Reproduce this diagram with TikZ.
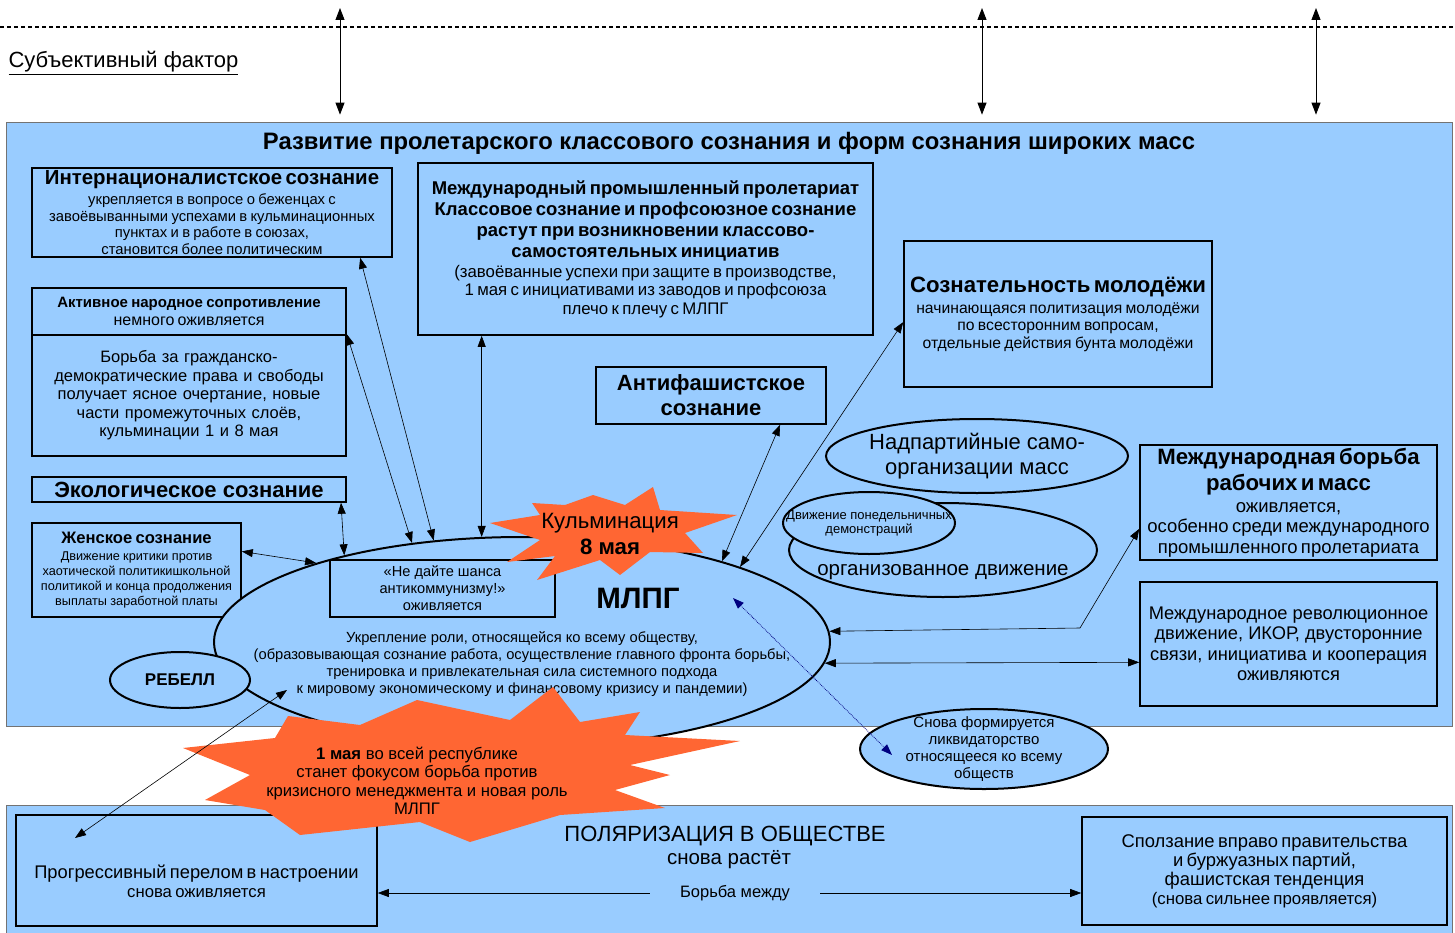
\documentclass[tikz,border=0pt]{standalone}
\usepackage{fontspec}
\setmainfont{Liberation Sans}
\usetikzlibrary{arrows.meta,shapes.geometric,positioning}
\definecolor{skyblue}{HTML}{99CCFF}
\definecolor{burstorange}{HTML}{FF6633}
\definecolor{dotnavy}{HTML}{000080}
\setlength\parindent{0pt}
\newcommand\fs[2]{\fontsize{#1}{#2}\selectfont}
\tikzset{
  panel/.style={draw=black!55, line width=0.7pt, fill=skyblue, inner sep=0pt},
  box/.style={draw, line width=1.6pt, fill=skyblue, align=center, inner sep=1pt},
  oval/.style={draw, ellipse, line width=2pt, fill=skyblue, inner sep=0pt},
  burst/.style={fill=burstorange},
  link/.style={{Triangle[length=11pt,width=8pt]}-{Triangle[length=11pt,width=8pt]}, line width=0.6pt},
  onelink/.style={-{Triangle[length=11pt,width=8pt]}, line width=0.6pt},
  farlink/.style={{Triangle[length=12pt,width=9pt]}-{Triangle[length=12pt,width=9pt]}, line width=0.9pt},
  dotlink/.style={{Triangle[length=11pt,width=8pt]}-{Triangle[length=11pt,width=8pt]}, color=dotnavy, densely dotted, line width=0.8pt}}

\begin{document}
\begin{tikzpicture}[x=1pt, y=-1pt]
\useasboundingbox (0,0) rectangle (1455,933);
% subjective factor
\draw[line width=1.2pt, dash pattern=on 4pt off 3pt] (0,27) -- (1455,27);
\node[anchor=west, font=\fs{22}{26}] (subj) at (5,63) {\underline{Субъективный фактор}};
\foreach \x/\n in {340/a, 982/b, 1316/c}
  \coordinate (top\n) at (\x,8);

% panels
\node[panel, minimum width=1446pt, minimum height=604pt] (devpanel) at (729,424) {};
\node[panel, minimum width=1446pt, minimum height=140pt] (polpanel) at (729,875) {};
\node[font=\bfseries\fs{23.8}{28}] (devtitle) at (729,143)
  {Развитие пролетарского классового сознания и форм сознания широких масс};
\foreach \n in {a,b,c}
  \draw[farlink, shorten >=7pt] (top\n) -- (top\n |- devpanel.north);

% left column
\node[box, minimum width=360pt, minimum height=89pt, text width=356pt] (intl) at (212,212.5)
  {{\bfseries\fs{20.4}{22}Интернационалистское сознание\par}\vspace{3.5pt}
   \fs{14.8}{16.5}укрепляется в вопросе о беженцах с\\завоёвыванными успехами в кульминационных\\пунктах и в работе в союзах,\\становится более политическим\par};
\node[box, minimum width=314pt, minimum height=47pt, text width=310pt] (resisthead) at (189,311.5)
  {{\bfseries\fs{15}{17}Активное народное сопротивление\par}
   \fs{16}{18}немного оживляется\par};
\node[box, minimum width=314pt, minimum height=121pt, text width=310pt, font=\fs{16.5}{18.5}] (resistbody) at (189,395.5)
  {Борьба за гражданско-\\демократические права и свободы\\получает ясное очертание, новые\\части промежуточных слоёв,\\кульминации 1 и 8 мая};
\node[box, minimum width=314pt, minimum height=25pt, font=\bfseries\fs{22}{24}] (eco) at (189,489.5)
  {Экологическое сознание};
\node[box, minimum width=209pt, minimum height=94pt, text width=205pt] (women) at (136.5,570)
  {{\bfseries\fs{16.6}{18}Женское сознание\par}\vspace{2pt}
   \fs{12.7}{15}Движение критики против\\хаотической политикишкольной\\политикой и конца продолжения\\выплаты заработной платы\par};

% middle and right
\node[box, minimum width=455pt, minimum height=172pt, text width=450pt] (prol) at (645.5,249)
  {{\bfseries\fs{18.5}{21}Международный промышленный пролетариат\\Классовое сознание и профсоюзное сознание\\растут при возникновении классово-\\самостоятельных инициатив\par}\vspace{1.5pt}
   \fs{16.8}{18.5}(завоёванные успехи при защите в производстве,\\1 мая с инициативами из заводов и профсоюза\\плечо к плечу с МЛПГ\par};
\node[box, minimum width=308pt, minimum height=146pt, text width=302pt] (youth) at (1058,314)
  {{\bfseries\fs{22.2}{24}Сознательность молодёжи\par}\vspace{3.5pt}
   \fs{15.7}{17.5}начинающаяся политизация молодёжи\\по всесторонним вопросам,\\отдельные действия бунта молодёжи\par};
\node[box, minimum width=230pt, minimum height=57pt, font=\bfseries\fs{22}{25}] (anti) at (711,395.5)
  {Антифашистское\\сознание};
\node[oval, minimum width=302pt, minimum height=74pt] (nadp) at (977,456) {};
\node[align=center, font=\fs{22}{25}] (nadptext) at (nadp) {Надпартийные само-\\организации масс};
\node[oval, minimum width=308pt, minimum height=94pt] (orgmov) at (943,550) {};
\node[font=\fs{20.5}{23}] (orgtext) at (943,572) {организованное движение};
\node[oval, minimum width=172pt, minimum height=62pt] (monday) at (869,523) {};
\node[align=center, font=\fs{13}{14}] (mondaytext) at (monday) {Движение понедельничных\\демонстраций};
\node[box, minimum width=297pt, minimum height=115pt, text width=293pt] (struggle) at (1288.5,502.5)
  {{\bfseries\fs{22.2}{26}Международная борьба\\рабочих и масс\par}\vspace{1.5pt}
   \fs{18.5}{20.5}оживляется,\\особенно среди международного\\промышленного пролетариата\par};
\node[box, minimum width=297pt, minimum height=124pt, font=\fs{18.3}{20.5}] (revol) at (1288.5,644)
  {Международное революционное\\движение, ИКОР, двусторонние\\связи, инициатива и кооперация\\оживляются};

% MLPG
\node[oval, minimum width=616pt, minimum height=210pt] (mlpg) at (522,642) {};
\node[box, minimum width=225pt, minimum height=57pt, font=\fs{14.6}{17}] (notsh) at (442.5,588.5)
  {«Не дайте шанса\\антикоммунизму!»\\оживляется};
\node[font=\bfseries\fs{29.5}{32}] (mlpgname) at (638,598) {МЛПГ};
\node[align=center, font=\fs{14.7}{17}] (mlpgtext) at (522,664)
  {Укрепление роли, относящейся ко всему обществу,\\(образовывающая сознание работа, осуществление главного фронта борьбы,\\тренировка и привлекательная сила системного подхода\\к мировому экономическому и финансовому кризису и пандемии)};
\node[oval, minimum width=140pt, minimum height=56pt, font=\bfseries\fs{17}{20}] (rebell) at (180,680) {РЕБЕЛЛ};
\fill[burst] (490,523) -- (540,515) -- (532,503) -- (565,505) -- (593,495) -- (625,505) -- (653,487)
  -- (660,510) -- (737,515) -- (685,533) -- (703,553) -- (650,552) -- (620,575) -- (600,560)
  -- (537,580) -- (555,556) -- (507,562) -- (540,540) -- cycle;
\node[align=center, font=\fs{22.2}{26}] (kulm) at (610,534) {Кульминация\\\bfseries 8 мая};
\node[oval, minimum width=248pt, minimum height=80pt] (liq) at (984,749) {};
\node[align=center, font=\fs{15}{17}] (liqtext) at (liq) {Снова формируется\\ликвидаторство\\относящееся ко всему\\обществ};

% polarisation
\node[box, minimum width=361pt, minimum height=111pt] (progress) at (196.5,870.5) {};
\node[align=center, text width=355pt] (progresstext) at (196.5,881)
  {\fs{18.3}{20}Прогрессивный перелом в настроении\par\fs{16.7}{19}снова оживляется\par};
\node[box, minimum width=365pt, minimum height=108pt, text width=360pt] (slide) at (1264.5,871)
  {\fs{18.4}{19}Сползание вправо правительства\\и буржуазных партий,\\фашистская тенденция\par
   \fs{16.8}{19}(снова сильнее проявляется)\par};
\node[font=\fs{22}{25}] (polar) at (725,836) {ПОЛЯРИЗАЦИЯ В ОБЩЕСТВЕ};
\node[font=\fs{20.5}{23}] (polargrow) at (729,860) {снова растёт};
\node[font=\fs{16.5}{19}, inner xsep=30pt] (between) at (735,893) {Борьба между};
\fill[burst] (183,748) -- (275,738) -- (288,716) -- (360,725) -- (417,700) -- (510,720) -- (553,687)
  -- (580,722) -- (640,712) -- (625,735) -- (740,741) -- (630,765) -- (670,775) -- (615,790)
  -- (665,808) -- (560,815) -- (470,842) -- (420,822) -- (300,835) -- (265,810) -- (205,800)
  -- (250,775) -- cycle;
\node[align=center, font=\fs{16.7}{18.5}] (firstmay) at (417,781)
  {{\bfseries 1 мая} во всей республике\\станет фокусом борьба против\\кризисного менеджмента и новая роль\\МЛПГ};

% connectors
\coordinate (kink) at (1080,628);
\coordinate (mlpgpt) at (733,598);
\coordinate (liqpt) at (892,755);
\coordinate (progresspt) at (75,838);
\coordinate (rebellpt) at (287,690);
\draw[link] (intl.-17.8) -- (mlpg.131.5);
\draw[link] (resistbody.north east) -- (mlpg.138);
\draw[link] (mlpg.111.5 |- prol.south) -- (mlpg.111.5);
\draw[link] (eco.-5.9) -- (mlpg.154);
\draw[link] (women.10.6) -- (mlpg.159.8);
\draw[link] (anti.-23.4) -- (mlpg.22.5);
\draw[link] (youth.183.3) -- (mlpg.19.2);
\draw[link] (struggle.190.35) -- (kink) -- (mlpg.2.6);
\draw[link] (revol.187.3) -- (mlpg.-4);
\draw[dotlink] (mlpgpt) -- (liqpt);
\draw[link] (progresspt) -- (rebellpt);
\draw[onelink] (between.west) -- (between.west -| progress.east);
\draw[onelink] (between.east) -- (between.east -| slide.west);
\end{tikzpicture}
\end{document}
